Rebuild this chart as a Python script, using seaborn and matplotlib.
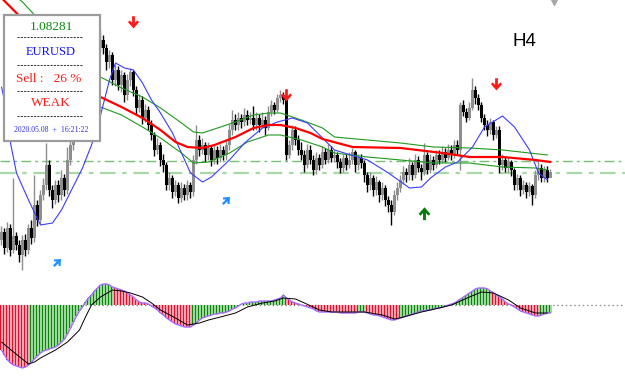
import numpy as np
import pandas as pd
import matplotlib
matplotlib.use('Agg')
import matplotlib.pyplot as plt
import seaborn as sns
from matplotlib.path import Path
from matplotlib.patches import Rectangle
from matplotlib.lines import Line2D

# EURUSD H4, prices in pips above 1.07000
opens = [60, 68, 52, 72, 50, 64, 55, 45, 60, 50,
         72, 62, 95, 80, 105, 115, 135, 110, 100, 115,
         105, 122, 110, 140, 155, 170, 182, 195, 205, 215,
         225, 235, 245, 252, 260, 252, 238, 245, 220, 230,
         215, 225, 205, 220, 228, 210, 192, 200, 182, 190,
         175, 165, 150, 155, 140, 135, 115, 122, 108, 115,
         102, 112, 105, 115, 108, 140, 160, 150, 155, 145,
         152, 140, 150, 142, 150, 145, 155, 170, 180, 175,
         182, 178, 185, 180, 182, 175, 182, 175, 180, 172,
         188, 195, 190, 202, 205, 200, 145, 155, 170, 160,
         150, 145, 135, 150, 140, 130, 142, 135, 148, 140,
         150, 142, 145, 138, 132, 142, 135, 140, 148, 135,
         142, 137, 125, 115, 122, 110, 118, 105, 112, 100,
         95, 88, 105, 112, 120, 128, 125, 135, 125, 140,
         132, 128, 145, 130, 140, 135, 145, 140, 148, 142,
         150, 145, 155, 150, 195, 188, 182, 192, 210, 202,
         195, 182, 175, 170, 178, 165, 170, 135, 140, 132,
         138, 130, 115, 122, 110, 115, 108, 114, 105, 125,
         132, 122, 130, 122]
closes = [68, 52, 72, 50, 64, 55, 45, 60, 50, 72,
          62, 95, 80, 105, 115, 135, 110, 100, 115, 105,
          122, 110, 140, 155, 170, 182, 195, 205, 215, 225,
          235, 245, 252, 260, 252, 238, 245, 220, 230, 215,
          225, 205, 220, 228, 210, 192, 200, 182, 190, 175,
          165, 150, 155, 140, 135, 115, 122, 108, 115, 102,
          112, 105, 115, 108, 140, 160, 150, 155, 145, 152,
          140, 150, 142, 150, 145, 155, 170, 180, 175, 182,
          178, 185, 180, 182, 175, 182, 175, 180, 172, 188,
          195, 190, 202, 205, 200, 145, 155, 170, 160, 150,
          145, 135, 150, 140, 130, 142, 135, 148, 140, 150,
          142, 145, 138, 132, 142, 135, 140, 148, 135, 142,
          137, 125, 115, 122, 110, 118, 105, 112, 100, 95,
          88, 105, 112, 120, 128, 125, 135, 125, 140, 132,
          128, 145, 130, 140, 135, 145, 140, 148, 142, 150,
          145, 155, 150, 195, 188, 182, 192, 210, 202, 195,
          182, 175, 170, 178, 165, 170, 135, 140, 132, 138,
          130, 115, 122, 110, 115, 108, 114, 105, 125, 132,
          122, 130, 122, 128]
highs = [74, 72, 78, 76, 122, 68, 60, 65, 66, 76,
         80, 125, 100, 110, 122, 157, 140, 115, 120, 120,
         130, 126, 153, 160, 175, 188, 200, 212, 220, 232,
         240, 250, 258, 270, 265, 256, 250, 248, 236, 234,
         230, 228, 226, 232, 230, 214, 206, 204, 196, 194,
         180, 168, 162, 158, 146, 138, 128, 125, 120, 118,
         118, 116, 120, 118, 145, 175, 165, 162, 158, 158,
         155, 156, 154, 156, 154, 160, 176, 190, 186, 188,
         186, 192, 190, 188, 194, 188, 186, 188, 184, 194,
         200, 198, 206, 210, 208, 204, 160, 175, 174, 165,
         158, 150, 156, 155, 145, 148, 146, 154, 152, 156,
         154, 150, 148, 142, 146, 146, 148, 152, 150, 146,
         146, 140, 128, 128, 125, 124, 120, 118, 115, 104,
         100, 110, 118, 125, 134, 132, 142, 138, 146, 144,
         136, 157, 148, 146, 144, 150, 150, 154, 152, 156,
         155, 160, 160, 198, 200, 192, 198, 222, 214, 206,
         198, 186, 180, 182, 180, 174, 174, 146, 144, 142,
         140, 132, 126, 125, 120, 118, 118, 116, 130, 140,
         136, 134, 134, 131]
lows = [55, 46, 48, 44, 47, 50, 38, 30, 44, 46,
        56, 58, 74, 76, 100, 110, 104, 92, 96, 98,
        100, 104, 106, 135, 150, 165, 178, 190, 200, 210,
        220, 230, 240, 248, 246, 230, 232, 215, 214, 210,
        208, 198, 200, 214, 204, 186, 188, 176, 178, 170,
        160, 144, 146, 134, 128, 110, 110, 102, 104, 97,
        98, 100, 100, 102, 104, 136, 144, 146, 138, 140,
        134, 136, 136, 138, 140, 140, 150, 165, 170, 170,
        172, 174, 175, 176, 170, 170, 168, 172, 165, 170,
        184, 186, 188, 198, 196, 140, 142, 150, 155, 145,
        140, 128, 132, 136, 125, 126, 130, 132, 136, 137,
        138, 138, 132, 127, 128, 130, 132, 136, 128, 130,
        132, 118, 108, 110, 104, 105, 98, 100, 94, 88,
        75, 85, 100, 108, 116, 118, 120, 120, 122, 128,
        120, 125, 126, 127, 130, 132, 136, 137, 138, 140,
        140, 142, 145, 130, 184, 178, 180, 190, 196, 190,
        178, 170, 164, 166, 160, 162, 127, 130, 128, 128,
        124, 110, 110, 104, 106, 102, 104, 95, 102, 120,
        118, 118, 118, 124]

# indicator lines (bar index, value)
red_bars = [0, 5, 33, 40, 47, 53, 58, 62, 67, 71, 78, 84, 89, 93, 98, 103, 107, 117, 133, 147, 156, 167, 178, 183]
red_vals = [302, 287, 203, 193, 182, 170, 158, 153, 152, 155, 163, 172, 175, 175, 172, 167, 161, 153, 152, 147, 143, 143, 140, 138]
upper_bars = [5, 7, 11, 33, 40, 47, 53, 60, 64, 67, 72, 78, 84, 89, 93, 100, 107, 111, 122, 133, 144, 156, 167, 182]
upper_vals = [303, 298, 285, 223, 212, 203, 192, 177, 168, 167, 172, 178, 185, 187, 187, 180, 172, 163, 160, 157, 153, 152, 150, 145]
lower_bars = [8, 33, 40, 47, 53, 60, 64, 69, 76, 82, 89, 93, 100, 107, 111, 122, 133, 144, 156, 167, 178, 182]
lower_vals = [262, 193, 185, 173, 162, 147, 137, 138, 147, 158, 165, 165, 160, 153, 147, 143, 140, 137, 137, 133, 132, 130]
blue_bars = [0, 1, 3, 5, 9, 13, 17, 20, 23, 27, 30, 32, 36, 38, 41, 44, 47, 50, 53, 57, 60, 63, 67, 70,
             76, 81, 87, 92, 97, 102, 107, 111, 122, 129, 136, 140, 143, 148, 152, 157, 161, 167, 171, 176, 179, 182]
blue_vals = [213, 200, 157, 127, 100, 75, 77, 90, 108, 132, 155, 173, 220, 237, 232, 230, 217, 200, 187, 167, 147, 127, 118, 123,
             140, 157, 172, 178, 182, 177, 162, 150, 140, 127, 112, 113, 122, 133, 138, 153, 173, 184, 173, 150, 127, 120]
levels = [139, 127]

# signals
sell_bars = [44, 95, 165]
sell_vals = [278, 205, 216]
buy_bars = [141]
buy_vals = [87]
hint_bars = [18.5, 75]
hint_vals = [38, 100]

# MACD window
hist = [-45, -50, -55, -58, -60, -61, -62, -63, -62, -60,
        -57, -54, -51, -48, -46, -45, -44, -43, -42, -40, -37, -34, -29, -23, -17, -11, -6, -2, 3, 7, 10, 14, 17, 20, 21, 21, 20, 18,
        17, 16, 15, 14, 12, 10, 8, 5, 3, 2, 2, 1, -1, -3, -5, -8, -10, -13, -15, -17, -19, -20, -21, -22, -22, -22,
        -20, -18, -15, -13, -12, -11, -10, -9, -9, -8, -8, -7, -6, -4, -3, -1, 1, 2, 2, 3, 3, 3, 4, 4, 4, 4, 4, 5, 6, 7, 10,
        7, 5, 3, 2, 1, 0, -1, -2, -3, -4, -6, -7, -7, -7, -7, -7, -7, -7, -8, -8, -8, -8, -8, -8,
        -7, -7, -7,
        -8, -9, -10, -10, -11, -12, -13, -14, -15, -15, -14,
        -13, -12, -11, -10, -9, -8, -7, -6, -6, -5, -5, -4, -3, -3, -2, -1, 0, 1, 2, 4, 6, 8, 10, 12, 14, 16, 17, 17, 17, 16, 14,
        12, 10, 8, 6, 3, 1, 0, -2, -4, -6, -7, -8, -9, -10, -11, -11,
        -10, -9, -8, -8]
seg_start = [0, 10, 38, 64, 95, 119, 122, 133, 164, 180]
seg_kind = ['r', 'g', 'r', 'g', 'r', 'g', 'r', 'g', 'r', 'g']
sig_bars = [0, 4, 9, 11, 13, 18, 22, 26, 28, 30, 33, 37, 40, 43, 47, 50, 53, 58, 62, 66, 69, 73, 78, 82, 87, 91, 94,
            98, 101, 106, 110, 116, 121, 127, 131, 134, 140, 146, 150, 156, 160, 164, 169, 173, 178, 182]
sig_vals = [-37, -47, -59, -57, -53, -45, -37, -25, -12, 0, 8, 15, 14, 12, 8, 2, -5, -13, -20, -18, -15, -12, -8, -2, 2, 4, 7,
            6, 2, -5, -7, -7, -7, -10, -14, -12, -7, -3, 0, 8, 13, 12, 5, -3, -8, -8]

sns.set_theme(style='white')
plt.rcParams['font.family'] = ['Liberation Serif', 'DejaVu Sans']

W, H = 625, 386
fig = plt.figure(figsize=(W / 100, H / 100), dpi=100)
fig.patch.set_facecolor('white')

def fx(px):
    return px / W

def fy(py):
    return 1 - py / H

xlim = (-0.5, W / 3 - 0.5)

# ---- price window
ax = fig.add_axes([0, fy(275), 1, 275 / H])

ax.axhline(levels[0], color='#74c074', lw=1.0, ls=(0, (7, 3, 2, 3)), zorder=1)
ax.axhline(levels[1], color='#a6d9a6', lw=1.6, ls=(0, (7, 3, 2, 3)), zorder=1)

df = pd.DataFrame({'o': opens, 'h': highs, 'l': lows, 'c': closes})
df['x'] = np.arange(len(df))
bull = df['c'] >= df['o']
cols = np.where(bull, '#8e8e8e', '#000000')
ax.vlines(df['x'], df['l'], df['h'], colors=cols, linewidth=1.0, zorder=2)
body = np.maximum((df['c'] - df['o']).abs(), 1.0)
ax.bar(df['x'], body, bottom=np.minimum(df['o'], df['c']), width=0.72, color=cols, linewidth=0, zorder=3)

sns.lineplot(x=upper_bars, y=upper_vals, ax=ax, color='#1e9a1e', lw=0.8, zorder=4)
sns.lineplot(x=lower_bars, y=lower_vals, ax=ax, color='#1e9a1e', lw=0.8, zorder=4)
sns.lineplot(x=blue_bars, y=blue_vals, ax=ax, color='#3c3cff', lw=0.8, zorder=4)
sns.lineplot(x=red_bars, y=red_vals, ax=ax, color='#ff0000', lw=1.6, zorder=5)

base = np.array([(-0.2, 0.9), (0.2, 0.9), (0.2, -0.05), (0.55, 0.3), (0.8, 0.05), (0, -0.85),
                 (-0.8, 0.05), (-0.55, 0.3), (-0.2, -0.05), (-0.2, 0.9)])

def arrow(angle):
    a = np.deg2rad(angle)
    rot = np.array([[np.cos(a), -np.sin(a)], [np.sin(a), np.cos(a)]])
    return Path(base @ rot.T, closed=True)

ax.plot(sell_bars, sell_vals, ls='none', marker=arrow(0), ms=9, color='#ff1a1a', mec='none', zorder=6)
ax.plot(buy_bars, buy_vals, ls='none', marker=arrow(180), ms=9.5, color='#0a7a0a', mec='none', zorder=6)
ax.plot(hint_bars, hint_vals, ls='none', marker=arrow(135), ms=6.5, color='#1e90ff', mec='none', zorder=6)
ax.set_xlim(*xlim)
ax.set_ylim(25, 300)
ax.axis('off')

# ---- MACD window
ax2 = fig.add_axes([0, 0, 1, 110 / H])
ax2.axhline(0, color='#8a8a8a', lw=0.9, ls=(0, (1.2, 2.2)), zorder=1)
hx = np.arange(len(hist))
kind = np.array(seg_kind)[np.searchsorted(seg_start, hx, side='right') - 1]
dark = np.where(kind == 'r', '#e0102c', '#0c840c')
light = np.where(kind == 'r', '#f6a3b2', '#9fd89f')
ax2.bar(hx - 0.25, hist, width=0.5, color=dark, linewidth=0, zorder=2)
ax2.bar(hx + 0.25, hist, width=0.5, color=light, linewidth=0, zorder=2)
sns.lineplot(x=hx, y=hist, ax=ax2, color='#a56bff', lw=1.0, zorder=3)
sns.lineplot(x=sig_bars, y=sig_vals, ax=ax2, color='#000000', lw=0.7, zorder=4)
ax2.set_xlim(*xlim)
ax2.set_ylim(-81, 29)
ax2.axis('off')

# ---- info box
fig.patches.append(Rectangle((fx(4), fy(141)), fx(96), 126 / H, transform=fig.transFigure,
                             facecolor='white', edgecolor='#9c9c9c', lw=1.6, zorder=10))
for py in [37, 65, 91, 116]:
    fig.add_artist(Line2D([fx(17), fx(83)], [fy(py), fy(py)], transform=fig.transFigure,
                          color='#333333', lw=0.7, ls=(0, (2.2, 1.2)), zorder=11))
fig.text(fx(51), fy(30.5), '1.08281', color='#0a8a0a', fontsize=9.5, ha='center', va='baseline', zorder=12)
fig.text(fx(51), fy(55), 'EURUSD', color='#1010ff', fontsize=9, ha='center', va='baseline', zorder=12)
fig.text(fx(49), fy(82.5), 'Sell :   26 %', color='#ff1a1a', fontsize=9.5, ha='center', va='baseline', zorder=12)
fig.text(fx(51), fy(106.5), 'WEAK', color='#ff1a1a', fontsize=9.5, ha='center', va='baseline', zorder=12)
fig.text(fx(51), fy(131.5), '2020.05.08  +  16:21:22', color='#3030e8', fontsize=5.6, ha='center', va='baseline', zorder=12)

fig.text(fx(512), fy(45.5), 'H4', color='black', fontsize=13.5, family='Liberation Sans', ha='left', va='baseline')
fig.add_artist(Line2D([fx(554)], [fy(2)], transform=fig.transFigure, marker='v', ms=4,
                      color='#a8a8a8', ls='none'))

fig.savefig('out.png', dpi=100, facecolor='white')
